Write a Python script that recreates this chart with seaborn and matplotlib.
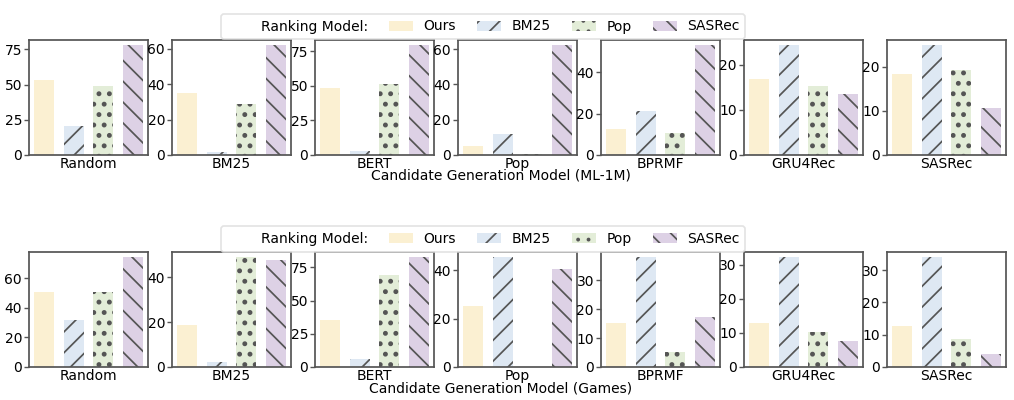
import matplotlib
matplotlib.use('Agg')
import matplotlib.pyplot as plt
from matplotlib.patches import Patch
import seaborn as sns

# Candidate generation models (one subplot each) and ranking models (bars)
candidates = ['Random', 'BM25', 'BERT', 'Pop', 'BPRMF', 'GRU4Rec', 'SASRec']
rankers = ['Ours', 'BM25', 'Pop', 'SASRec']

# values per candidate model, order: Ours, BM25, Pop, SASRec
ml1m = {
    'Random': [53.0, 20.6, 48.8, 77.8],
    'BM25': [35.0, 1.7, 28.8, 61.9],
    'BERT': [48.2, 3.1, 51.1, 79.0],
    'Pop': [5.2, 12.0, 0.6, 62.1],
    'BPRMF': [12.7, 21.3, 10.8, 53.1],
    'GRU4Rec': [16.8, 24.3, 15.3, 13.5],
    'SASRec': [18.3, 24.8, 19.2, 10.6],
}
games = {
    'Random': [51.0, 31.5, 51.0, 74.0],
    'BM25': [18.5, 2.2, 48.7, 47.6],
    'BERT': [35.2, 6.2, 69.6, 82.5],
    'Pop': [25.0, 45.2, 0.0, 40.5],
    'BPRMF': [15.3, 37.8, 5.2, 17.4],
    'GRU4Rec': [12.8, 32.1, 10.2, 7.6],
    'SASRec': [12.6, 33.9, 8.6, 4.0],
}

colors = ['#fbf0d2', '#dee8f3', '#e3edd8', '#ddd1e5']
hatches = ['', '//', '..', '\\\\']
hatch_widths = [1.0, 1.0, 1.6, 1.0]
hatch_color = '#555555'

plt.rcParams['font.family'] = ['DejaVu Sans']
plt.rcParams['font.size'] = 8
plt.rcParams['hatch.linewidth'] = 1.0

fig = plt.figure(figsize=(8.12, 3.2), dpi=125)


def style_bar(bar, h, hw):
    bar.set_hatch(h)
    bar.set_edgecolor(hatch_color)
    bar.set_linewidth(0)
    if hasattr(bar, 'set_hatch_linewidth'):
        bar.set_hatch_linewidth(hw)


def draw_row(data, top, bottom, title, label_y, legend_y):
    gs = fig.add_gridspec(1, 7, left=29 / 1015, right=1006 / 1015,
                          top=top, bottom=bottom, wspace=0.2)
    for i, cand in enumerate(candidates):
        ax = fig.add_subplot(gs[0, i])
        sns.barplot(x=rankers, y=data[cand], hue=rankers, palette=colors,
                    saturation=1, width=0.67, legend=False, ax=ax)
        for cont, h, hw in zip(ax.containers, hatches, hatch_widths):
            for bar in cont:
                style_bar(bar, h, hw)
        ax.set_xticks([])
        ax.set_xlabel(cand, fontsize=8, labelpad=1)
        ax.set_ylabel('')
        ax.tick_params(axis='y', left=True, length=3, width=0.8, pad=1,
                       labelsize=8, color='#555555', labelcolor='black')
        for sp in ax.spines.values():
            sp.set_color('#555555')
            sp.set_linewidth(1.0)
    fig.text(501 / 1015, label_y, title, ha='center', va='center', fontsize=8)
    handles = [Patch(facecolor='none', edgecolor='none')]
    for c, h, hw in zip(colors, hatches, hatch_widths):
        p = Patch(facecolor=c)
        style_bar(p, h, hw)
        handles.append(p)
    labels = ['Ranking Model:'] + rankers
    fig.legend(handles, labels, loc='center', bbox_to_anchor=(483 / 1015, legend_y),
               ncol=5, fontsize=8, frameon=True, edgecolor='#dddddd',
               handlelength=1.75, columnspacing=1.5, handletextpad=0.75,
               borderpad=0.4)


draw_row(ml1m, 1 - 40 / 400, 1 - 155 / 400,
         'Candidate Generation Model (ML-1M)', 1 - 176 / 400, 1 - 26.5 / 400)
draw_row(games, 1 - 252 / 400, 1 - 367 / 400,
         'Candidate Generation Model (Games)', 1 - 388 / 400, 1 - 239 / 400)

fig.savefig('out.png', dpi=125)
